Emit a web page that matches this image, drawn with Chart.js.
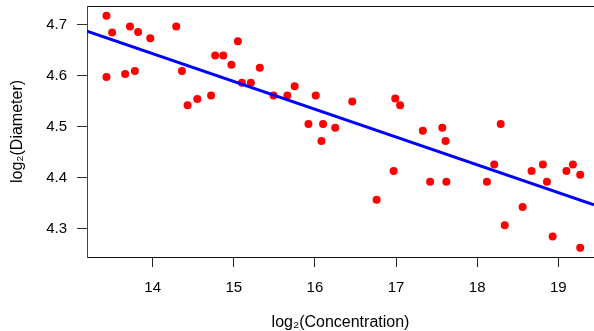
<!DOCTYPE html>
<html>
<head>
<meta charset="utf-8">
<script src="https://cdn.jsdelivr.net/npm/chart.js@4/dist/chart.umd.min.js"></script>
<style>
  html, body { margin: 0; padding: 0; background: #fff; }
  #wrap { width: 594px; height: 331px; }
</style>
</head>
<body>
<div id="wrap"><canvas id="chart" width="594" height="331"></canvas></div>
<script>
// values
const concentration = [
  13.43, 13.50, 13.43, 13.72, 13.82, 13.97, 13.66, 13.78, 14.29, 14.36,
  14.43, 14.55, 14.72, 14.77, 14.87, 15.05, 14.97, 15.32, 15.10, 15.21,
  15.49, 15.66, 15.75, 16.01, 16.46, 15.92, 16.10, 16.25, 16.08, 16.99,
  17.05, 17.33, 17.57, 17.61, 18.29, 16.97, 16.76, 17.42, 17.62, 18.12,
  18.21, 18.34, 18.56, 18.67, 18.81, 18.86, 18.93, 19.10, 19.18, 19.27,
  19.27
];
const diameter = [
  4.717, 4.684, 4.597, 4.696, 4.685, 4.673, 4.603, 4.609, 4.696, 4.609,
  4.542, 4.554, 4.561, 4.639, 4.639, 4.667, 4.621, 4.615, 4.586, 4.586,
  4.561, 4.561, 4.579, 4.561, 4.549, 4.505, 4.505, 4.498, 4.472, 4.555,
  4.542, 4.492, 4.498, 4.472, 4.505, 4.413, 4.357, 4.392, 4.392, 4.392,
  4.426, 4.307, 4.343, 4.413, 4.426, 4.392, 4.285, 4.413, 4.426, 4.406,
  4.263
];
// fitted line, end points at the plot edges
const fitX = [13.19, 19.44];
const fitY = [4.687, 4.347];

const xTicks = [14, 15, 16, 17, 18, 19];
const yTicks = [4.3, 4.4, 4.5, 4.6, 4.7];
const xRange = [13.19, 19.44];
const yRange = [4.245, 4.736];

const FONT = "Liberation Sans, Arial, Helvetica, sans-serif";

// fixed box sizes, no extra label padding from chart.js
function fixSize(w, h) {
  return (s) => {
    if (w != null) s.width = w;
    if (h != null) s.height = h;
    s.paddingTop = 0;
    s.paddingBottom = 0;
    s.paddingLeft = 0;
    s.paddingRight = 0;
  };
}

new Chart(document.getElementById("chart"), {
  type: "scatter",
  data: {
    datasets: [
      {
        type: "line",
        data: fitX.map((x, i) => ({ x: x, y: fitY[i] })),
        borderColor: "#0000ff",
        borderWidth: 3,
        pointRadius: 0,
        fill: false,
        order: 0,
      },
      {
        data: concentration.map((x, i) => ({ x: x, y: diameter[i] })),
        backgroundColor: "#ff0000",
        borderWidth: 0,
        pointRadius: 4,
        order: 1,
      },
    ],
  },
  options: {
    responsive: false,
    animation: false,
    devicePixelRatio: 1,
    layout: { padding: 0, autoPadding: false },
    plugins: { legend: { display: false }, tooltip: { enabled: false } },
    scales: {
      x: {
        type: "linear",
        position: "bottom",
        min: xRange[0],
        max: xRange[1],
        afterBuildTicks: (s) => { s.ticks = xTicks.map((v) => ({ value: v })); },
        afterFit: fixSize(null, 74),
        grid: { drawOnChartArea: false, drawTicks: true, tickLength: 10, color: "#222" },
        border: { display: true, color: "#111", width: 1 },
        ticks: { color: "#000", padding: 12, font: { family: FONT, size: 15 } },
        title: {
          display: true,
          text: "log\u2082(Concentration)",
          color: "#000",
          padding: { top: 0, bottom: 0 },
          font: { family: FONT, size: 16, lineHeight: 1.0 },
        },
      },
      x2: {
        type: "linear",
        position: "top",
        min: xRange[0],
        max: xRange[1],
        afterFit: fixSize(null, 6),
        grid: { drawOnChartArea: false, drawTicks: false },
        border: { display: true, color: "#111", width: 1 },
        ticks: { display: false },
      },
      y: {
        type: "linear",
        position: "left",
        min: yRange[0],
        max: yRange[1],
        afterBuildTicks: (s) => { s.ticks = yTicks.map((v) => ({ value: v })); },
        afterFit: fixSize(87, null),
        grid: { drawOnChartArea: false, drawTicks: true, tickLength: 10, color: "#333" },
        border: { display: true, color: "#444", width: 1 },
        ticks: {
          color: "#000",
          padding: 10,
          font: { family: FONT, size: 15 },
          callback: (v) => v.toFixed(1),
        },
        title: {
          display: true,
          text: "log\u2082(Diameter)",
          color: "#000",
          padding: { top: 8, bottom: 0 },
          font: { family: FONT, size: 16 },
        },
      },
    },
  },
});
</script>
</body>
</html>
